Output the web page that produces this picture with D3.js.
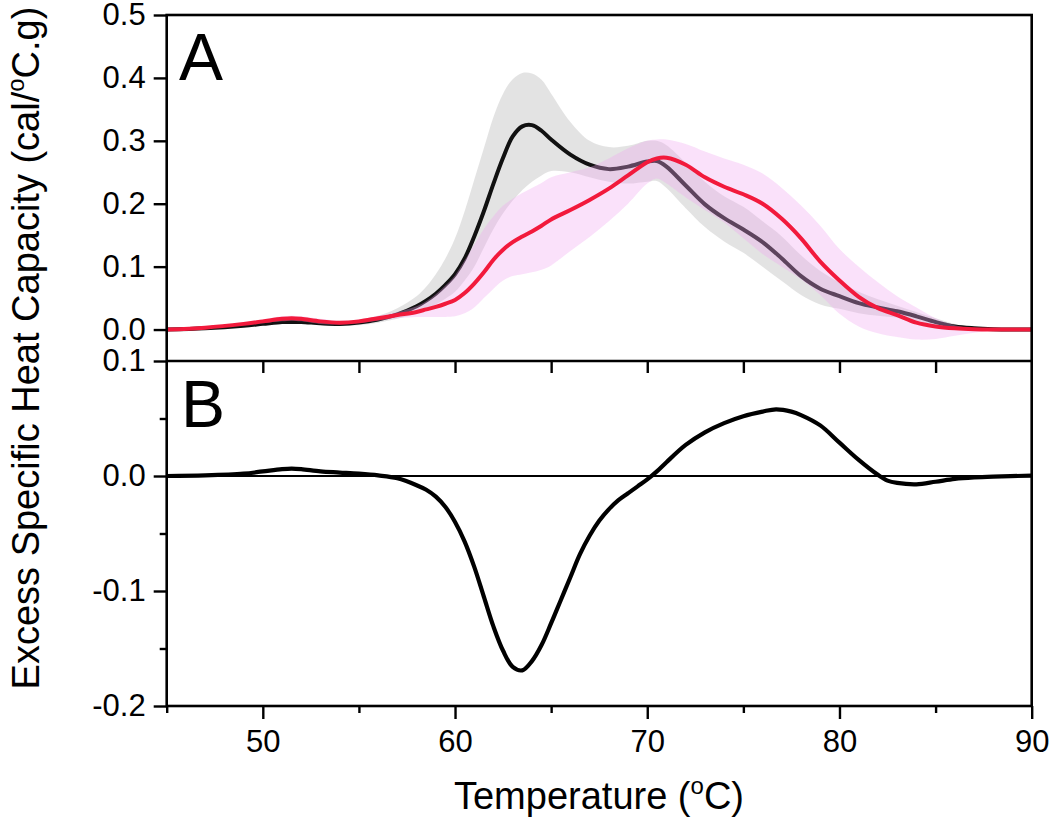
<!DOCTYPE html>
<html><head><meta charset="utf-8">
<script src="https://cdn.jsdelivr.net/npm/d3@7"></script>
<style>
html,body{margin:0;padding:0;background:#fff;}
text{font-family:"Liberation Sans",Arial,sans-serif;fill:#000;}
</style></head>
<body>
<svg id="chart" width="1050" height="833"></svg>
<script>
// ---- Data ----
const temps      = [45,47,49,50,51,51.5,52,53,54,55,56,57,58,58.5,59,59.5,60,60.5,61,61.5,62,62.5,63,63.5,64,64.5,65,66,67,68,69,70,70.5,71,72,73,74,75,76,77,78,79,80,81,82,83,84,85,86,87,88,89,90];
const blackMean  = [0,0.002,0.006,0.009,0.012,0.012,0.012,0.010,0.009,0.011,0.016,0.024,0.037,0.046,0.057,0.071,0.088,0.113,0.148,0.188,0.232,0.273,0.307,0.323,0.325,0.316,0.302,0.278,0.262,0.255,0.259,0.267,0.268,0.259,0.229,0.199,0.177,0.159,0.139,0.113,0.085,0.065,0.053,0.042,0.035,0.029,0.021,0.012,0.005,0.002,0.0005,0,0];
const blackUpper = [0,0.003,0.008,0.011,0.015,0.015,0.015,0.013,0.012,0.015,0.022,0.034,0.053,0.068,0.088,0.113,0.145,0.188,0.238,0.288,0.338,0.375,0.398,0.408,0.407,0.397,0.375,0.330,0.300,0.290,0.292,0.300,0.300,0.293,0.265,0.235,0.212,0.195,0.172,0.148,0.118,0.093,0.075,0.060,0.048,0.038,0.028,0.018,0.009,0.004,0.001,0,0];
const blackLower = [0,0.001,0.004,0.007,0.009,0.009,0.009,0.007,0.006,0.007,0.011,0.017,0.026,0.032,0.040,0.049,0.060,0.078,0.100,0.130,0.160,0.185,0.205,0.222,0.235,0.245,0.252,0.250,0.242,0.235,0.232,0.235,0.236,0.225,0.193,0.163,0.140,0.122,0.100,0.077,0.055,0.040,0.033,0.026,0.022,0.019,0.014,0.007,0.002,0,0,0,0];
const redMean    = [0,0.003,0.009,0.013,0.017,0.018,0.017,0.013,0.011,0.013,0.018,0.023,0.028,0.032,0.036,0.041,0.047,0.058,0.073,0.091,0.111,0.127,0.139,0.148,0.156,0.165,0.175,0.190,0.206,0.224,0.245,0.266,0.272,0.273,0.262,0.242,0.227,0.215,0.200,0.176,0.145,0.108,0.078,0.052,0.034,0.023,0.011,0.005,0.002,0.0005,0,0,0];
const redUpper   = [0,0.004,0.011,0.016,0.021,0.022,0.021,0.017,0.014,0.016,0.022,0.028,0.037,0.045,0.056,0.070,0.086,0.110,0.135,0.160,0.180,0.197,0.208,0.217,0.225,0.233,0.242,0.250,0.258,0.272,0.288,0.300,0.302,0.302,0.295,0.283,0.272,0.262,0.248,0.225,0.197,0.165,0.128,0.100,0.075,0.053,0.035,0.018,0.007,0.002,0,0,0];
const redLower   = [0,0.002,0.007,0.010,0.013,0.014,0.013,0.009,0.008,0.010,0.014,0.018,0.020,0.020,0.020,0.020,0.021,0.026,0.035,0.050,0.065,0.078,0.085,0.088,0.091,0.095,0.102,0.125,0.147,0.172,0.200,0.232,0.240,0.232,0.210,0.190,0.170,0.145,0.120,0.100,0.080,0.055,0.025,0.005,-0.006,-0.012,-0.016,-0.015,-0.010,-0.005,-0.002,0,0];

const diffTemps  = [45,47,49,50,51,51.5,52,53,54,55,56,57,58,58.5,59,59.5,60,60.5,61,61.5,62,62.5,63,63.5,64,64.5,65,65.5,66,66.5,67,67.5,68,68.5,69,69.5,70,70.5,71,72,73,74,75,76,76.7,77.5,78,79,80,81,82,82.5,83,84,85,86,87,88,90];
const diffValues = [0,0.0005,0.002,0.004,0.006,0.0065,0.006,0.004,0.003,0.002,0.0005,-0.002,-0.008,-0.012,-0.018,-0.027,-0.040,-0.057,-0.079,-0.105,-0.131,-0.152,-0.166,-0.169,-0.161,-0.147,-0.128,-0.108,-0.088,-0.068,-0.052,-0.039,-0.029,-0.021,-0.015,-0.009,-0.003,0.004,0.012,0.027,0.038,0.046,0.052,0.056,0.058,0.056,0.053,0.044,0.029,0.014,0.001,-0.004,-0.006,-0.0072,-0.005,-0.0025,-0.0012,-0.0005,0.0003];

const yTicksA = [0,0.1,0.2,0.3,0.4,0.5];
const yTicksB = [-0.2,-0.1,0,0.1];
const yMinorB = [-0.15,-0.05,0.05];
const xTicks  = [50,60,70,80,90];
const xMinor  = [45,55,65,75,85];
const xTitle = "Temperature (";
const yTitle = "Excess Specific Heat Capacity (cal/";

// ---- Layout ----
const L = 166.7, R = 1031.7, TOP = 15, MID = 361, BOT = 706;
const svg = d3.select("#chart");
const x = d3.scaleLinear().domain([45,90]).range([L,R]);
const yA = d3.scaleLinear().domain([-0.05,0.5]).range([MID,TOP]);
const yB = d3.scaleLinear().domain([-0.2,0.1]).range([BOT,MID]);
const fmt = d => d.toFixed(1);

svg.append("clipPath").attr("id","clipA").append("rect")
  .attr("x",L).attr("y",TOP).attr("width",R-L).attr("height",MID-TOP);

const rowsA = temps.map((t,i)=>({t, bm:blackMean[i], bu:blackUpper[i], bl:blackLower[i], rm:redMean[i], ru:redUpper[i], rl:redLower[i]}));
const curve = d3.curveCatmullRom.alpha(0.5);

const gA = svg.append("g").attr("clip-path","url(#clipA)");
gA.append("path").datum(rowsA)
  .attr("d", d3.area().x(d=>x(d.t)).y0(d=>yA(d.bl)).y1(d=>yA(d.bu)).curve(curve))
  .attr("fill","#c8c8c8").attr("fill-opacity",0.5);
gA.append("path").datum(rowsA)
  .attr("d", d3.line().x(d=>x(d.t)).y(d=>yA(d.bm)).curve(curve))
  .attr("fill","none").attr("stroke","#111").attr("stroke-width",4);
gA.append("path").datum(rowsA)
  .attr("d", d3.area().x(d=>x(d.t)).y0(d=>yA(d.rl)).y1(d=>yA(d.ru)).curve(curve))
  .attr("fill","#f0a6f0").attr("fill-opacity",0.34);
gA.append("path").datum(rowsA)
  .attr("d", d3.line().x(d=>x(d.t)).y(d=>yA(d.rm)).curve(curve))
  .attr("fill","none").attr("stroke","#f21a3c").attr("stroke-width",4);

// Panel B
svg.append("line").attr("x1",L).attr("x2",R).attr("y1",yB(0)).attr("y2",yB(0))
  .attr("stroke","#000").attr("stroke-width",1.8);
const rowsB = diffTemps.map((t,i)=>({t, v:diffValues[i]}));
svg.append("path").datum(rowsB)
  .attr("d", d3.line().x(d=>x(d.t)).y(d=>yB(d.v)).curve(curve))
  .attr("fill","none").attr("stroke","#000").attr("stroke-width",4.2);

// Frame
svg.append("rect").attr("x",L).attr("y",TOP).attr("width",R-L).attr("height",BOT-TOP)
  .attr("fill","none").attr("stroke","#000").attr("stroke-width",2.6);
svg.append("line").attr("x1",L).attr("x2",R).attr("y1",MID).attr("y2",MID)
  .attr("stroke","#000").attr("stroke-width",2.6);

function styleAxis(g){
  g.select(".domain").remove();
  g.selectAll(".tick line").attr("stroke","#000").attr("stroke-width",2.4);
  g.selectAll(".tick text").attr("font-size",31).attr("font-family","'Liberation Sans',Arial,sans-serif");
}
svg.append("g").attr("transform",`translate(${L},0)`)
  .call(d3.axisLeft(yA).tickValues(yTicksA).tickSize(13).tickPadding(8).tickFormat(fmt)).call(styleAxis);
svg.append("g").attr("transform",`translate(${L},0)`)
  .call(d3.axisLeft(yB).tickValues(yTicksB).tickSize(13).tickPadding(8).tickFormat(fmt)).call(styleAxis);
svg.append("g").attr("transform",`translate(${L},0)`)
  .call(d3.axisLeft(yB).tickValues(yMinorB).tickSize(7).tickFormat("")).call(styleAxis);
svg.append("g").attr("transform",`translate(0,${BOT})`)
  .call(d3.axisBottom(x).tickValues(xTicks).tickSize(13).tickPadding(11).tickFormat(d3.format("d"))).call(styleAxis);
svg.append("g").attr("transform",`translate(0,${BOT})`)
  .call(d3.axisBottom(x).tickValues(xMinor).tickSize(7).tickFormat("")).call(styleAxis);
svg.append("g").attr("transform",`translate(0,${MID})`)
  .call(d3.axisBottom(x).tickValues([50,55,60,65,70,75,80,85]).tickSize(12).tickFormat("")).call(styleAxis);

// Panel letters
svg.append("text").attr("x",179).attr("y",80).attr("font-size",66).text("A");
svg.append("text").attr("x",181).attr("y",427).attr("font-size",66).text("B");

// Axis titles
const xt = svg.append("text").attr("x",599).attr("y",809).attr("text-anchor","middle").attr("font-size",38);
xt.append("tspan").text(xTitle);
xt.append("tspan").attr("font-size",24).attr("dy",-15).text("o");
xt.append("tspan").attr("dy",15).text("C)");

const yt = svg.append("text").attr("transform","translate(39,348) rotate(-90)").attr("text-anchor","middle").attr("font-size",38);
yt.append("tspan").text(yTitle);
yt.append("tspan").attr("font-size",24).attr("dy",-15).text("o");
yt.append("tspan").attr("dy",15).text("C.g)");
</script>
</body></html>
